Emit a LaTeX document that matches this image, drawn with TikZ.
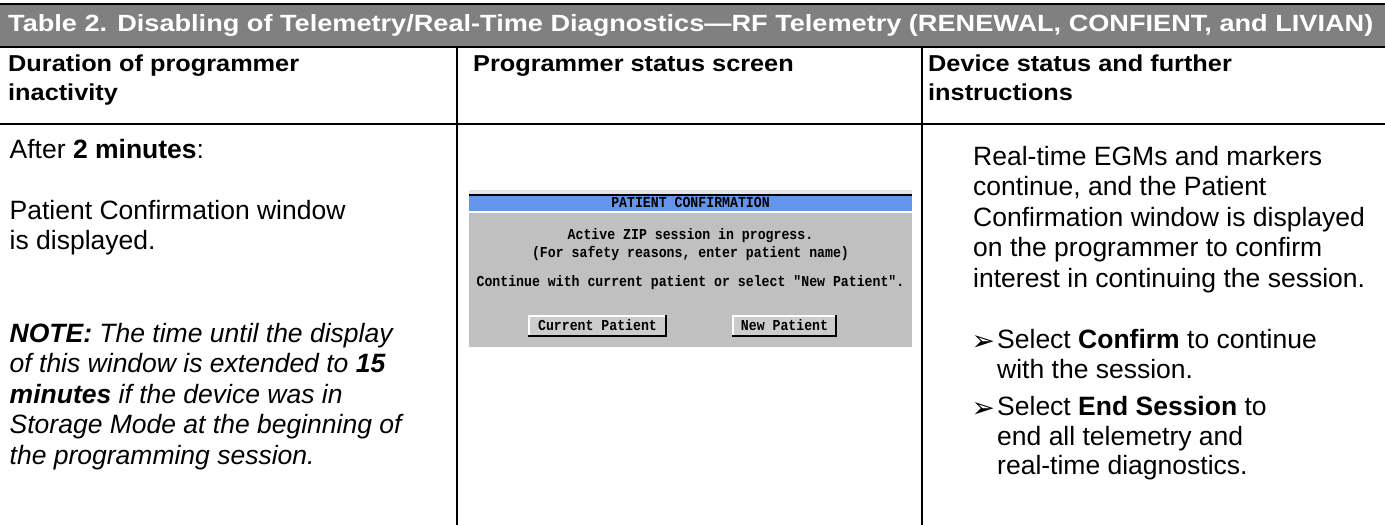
\documentclass[tikz,border=0pt]{standalone}
\usepackage{graphicx}
\usepackage{fontspec}
\setmainfont{Liberation Sans}
\setmonofont{Liberation Mono}
\newfontfamily\symfont{DejaVu Sans}
\definecolor{band}{HTML}{808080}
\definecolor{scrblue}{HTML}{6495ED}
\definecolor{scrgray}{HTML}{C0C0C0}
\definecolor{scrtop}{HTML}{E4E4E4}
\definecolor{btnfill}{HTML}{CCCCCC}
\tikzset{
  rule/.style={line width=2.2pt, draw=black},
  ttl/.style={text=white, font=\fontsize{20}{24}\selectfont\bfseries, inner sep=0pt, anchor=base west},
  hdr/.style={font=\fontsize{23}{29}\selectfont\bfseries, inner sep=0pt, anchor=base west},
  body/.style={font=\fontsize{26.5}{30.5}\selectfont, inner sep=0pt, anchor=base west},
  bul/.style={font=\fontsize{28}{30}\selectfont\symfont, inner sep=0pt, anchor=base west},
  scr/.style={font=\fontsize{13.2}{16}\selectfont\ttfamily\bfseries, inner sep=0pt, anchor=base},
  btn/.style={fill=btnfill, draw=none}
}
\newcommand{\hstr}[1]{\scalebox{1.1}[1]{#1}}
\newcommand{\mstr}[1]{\scalebox{1}[1.15]{#1}}
\begin{document}
\begin{tikzpicture}[x=1pt,y=-1pt]
\useasboundingbox (0,0) rectangle (1385,525);
\fill[white] (0,0) rectangle (1385,525);
% title band
\fill[band] (0,4) rectangle (1385,47);
\node[ttl] (title) at (8,31) {\resizebox{1365pt}{17pt}{Table 2. Disabling of Telemetry/Real-Time Diagnostics—RF Telemetry (RENEWAL, CONFIENT, and LIVIAN)}};
% rules
\coordinate (tl) at (0,4);   \coordinate (tr) at (1385,4);
\coordinate (bl) at (0,47);  \coordinate (br) at (1385,47);
\coordinate (hl) at (0,124); \coordinate (hr) at (1385,124);
\coordinate (v1t) at (457,47); \coordinate (v1b) at (457,525);
\coordinate (v2t) at (922,47); \coordinate (v2b) at (922,525);
\draw[rule] (tl) -- (tr);
\draw[rule] (bl) -- (br);
\draw[rule] (hl) -- (hr);
\draw[line width=2pt] (v1t) -- (v1b);
\draw[line width=2pt] (v2t) -- (v2b);
% headers
\node[hdr] (h1a) at (8,71) {\hstr{Duration of programmer}};
\node[hdr] (h1b) at (8,100) {\hstr{inactivity}};
\node[hdr] (h2) at (473,71) {\hstr{Programmer status screen}};
\node[hdr] (h3a) at (928,71) {\hstr{Device status and further}};
\node[hdr] (h3b) at (928,100) {\hstr{instructions}};
% left column
\node[body] (l1) at (9.5,158) {After \textbf{2 minutes}:};
\node[body] (l2) at (9.5,219) {Patient Confirmation window};
\node[body] (l3) at (9.5,249) {is displayed.};
\node[body] (n1) at (9.5,342) {\itshape\textbf{NOTE:} The time until the display};
\node[body] (n2) at (9.5,372.5) {\itshape of this window is extended to \textbf{15}};
\node[body] (n3) at (9.5,403) {\itshape\textbf{minutes} if the device was in};
\node[body] (n4) at (9.5,433.5) {\itshape Storage Mode at the beginning of};
\node[body] (n5) at (9.5,464) {\itshape the programming session.};
% right column
\node[body] (r1) at (973,165) {Real-time EGMs and markers};
\node[body] (r2) at (973,195.5) {continue, and the Patient};
\node[body] (r3) at (973,226) {Confirmation window is displayed};
\node[body] (r4) at (973,256.5) {on the programmer to confirm};
\node[body] (r5) at (973,287) {interest in continuing the session.};
\node[bul] (b1) at (971.5,350.5) {➢};
\node[body] (s1a) at (997,348) {Select \textbf{Confirm} to continue};
\node[body] (s1b) at (997,378.5) {with the session.};
\node[bul] (b2) at (971.5,417.5) {➢};
\node[body] (s2a) at (997,415) {Select \textbf{End Session} to};
\node[body] (s2b) at (997,445) {end all telemetry and};
\node[body] (s2c) at (997,474.5) {real-time diagnostics.};
% programmer screen
\fill[scrtop] (469,190) rectangle (912,194);
\fill[black] (469,194) rectangle (912,196);
\fill[scrblue] (469,196) rectangle (912,211);
\fill[white] (469,211) rectangle (912,212.5);
\fill[scrgray] (469,212.5) rectangle (912,347);
\node[scr] (st) at (690.5,207.5) {\mstr{PATIENT CONFIRMATION}};
\node[scr] (sa) at (690.5,239) {\mstr{Active ZIP session in progress.}};
\node[scr] (sb) at (690.5,257.5) {\mstr{(For safety reasons, enter patient name)}};
\node[scr] (sc) at (690.5,286) {\mstr{Continue with current patient or select "New Patient".}};
% buttons
\fill[btn] (528,315) rectangle (667,337);
\draw[white, line width=1.5pt] (528.75,337) -- (528.75,315.75) -- (667,315.75);
\draw[black, line width=2.2pt] (528,336) -- (666,336) -- (666,315);
\node[scr] (bc) at (597.5,330) {\mstr{Current Patient}};
\fill[btn] (732,315) rectangle (837,337);
\draw[white, line width=1.5pt] (732.75,337) -- (732.75,315.75) -- (837,315.75);
\draw[black, line width=2.2pt] (732,336) -- (836,336) -- (836,315);
\node[scr] (bn) at (784.5,330) {\mstr{New Patient}};
\end{tikzpicture}
\end{document}
